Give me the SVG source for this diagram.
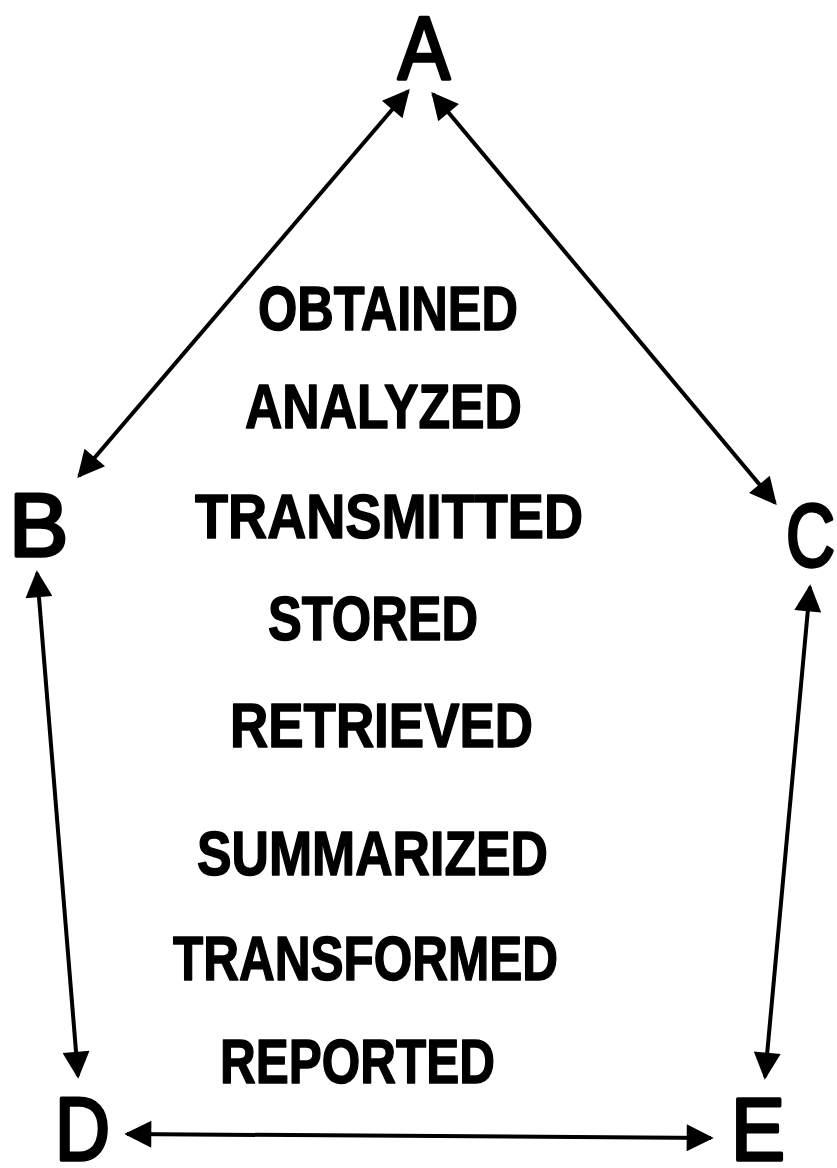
<svg xmlns="http://www.w3.org/2000/svg" width="837" height="1168" viewBox="0 0 837 1168">
<style>
.node{font-family:"Liberation Sans",Arial,sans-serif;font-size:89px;fill:#000;stroke:#000;stroke-width:3.5;stroke-linejoin:round}
.lbl{font-family:"Liberation Sans",Arial,sans-serif;font-weight:bold;font-size:63px;fill:#000;stroke:#000;stroke-width:1.5;stroke-linejoin:round}
.conn{stroke:#000;stroke-width:4;fill:none}
</style>
<defs>
<marker id="ah" viewBox="0 0 10 10" refX="9" refY="5" markerWidth="31" markerHeight="27" markerUnits="userSpaceOnUse" orient="auto-start-reverse">
<path d="M0,0 L10,5 L0,10 z" fill="#000"/>
</marker>
</defs>
<rect width="837" height="1168" fill="#fff"/>
<g id="connectors">
<line class="conn" x1="408" y1="91" x2="79" y2="476" marker-start="url(#ah)" marker-end="url(#ah)"/>
<line class="conn" x1="433" y1="94" x2="775" y2="503" marker-start="url(#ah)" marker-end="url(#ah)"/>
<line class="conn" x1="37" y1="573" x2="78" y2="1076" marker-start="url(#ah)" marker-end="url(#ah)"/>
<line class="conn" x1="810" y1="587" x2="765" y2="1077" marker-start="url(#ah)" marker-end="url(#ah)"/>
<line class="conn" x1="127" y1="1134" x2="711" y2="1138" marker-start="url(#ah)" marker-end="url(#ah)"/>
</g>
<g id="node-A"><text class="node" x="398" y="79" textLength="52" lengthAdjust="spacingAndGlyphs">A</text></g>
<g id="node-B"><text class="node" x="9" y="556">B</text></g>
<g id="node-C"><text class="node" x="786" y="566" textLength="49" lengthAdjust="spacingAndGlyphs">C</text></g>
<g id="node-D"><text class="node" x="55" y="1160" textLength="55" lengthAdjust="spacingAndGlyphs">D</text></g>
<g id="node-E"><text class="node" x="731" y="1160" textLength="54" lengthAdjust="spacingAndGlyphs">E</text></g>
<g id="labels">
<text class="lbl" x="258" y="330" textLength="260" lengthAdjust="spacingAndGlyphs">OBTAINED</text>
<text class="lbl" x="245" y="428" textLength="277" lengthAdjust="spacingAndGlyphs">ANALYZED</text>
<text class="lbl" x="195" y="538" textLength="388" lengthAdjust="spacingAndGlyphs">TRANSMITTED</text>
<text class="lbl" x="268" y="640" textLength="210" lengthAdjust="spacingAndGlyphs">STORED</text>
<text class="lbl" x="230" y="747" textLength="303" lengthAdjust="spacingAndGlyphs">RETRIEVED</text>
<text class="lbl" x="197" y="875" textLength="351" lengthAdjust="spacingAndGlyphs">SUMMARIZED</text>
<text class="lbl" x="173" y="980" textLength="385" lengthAdjust="spacingAndGlyphs">TRANSFORMED</text>
<text class="lbl" x="220" y="1083" textLength="275" lengthAdjust="spacingAndGlyphs">REPORTED</text>
</g>
</svg>
